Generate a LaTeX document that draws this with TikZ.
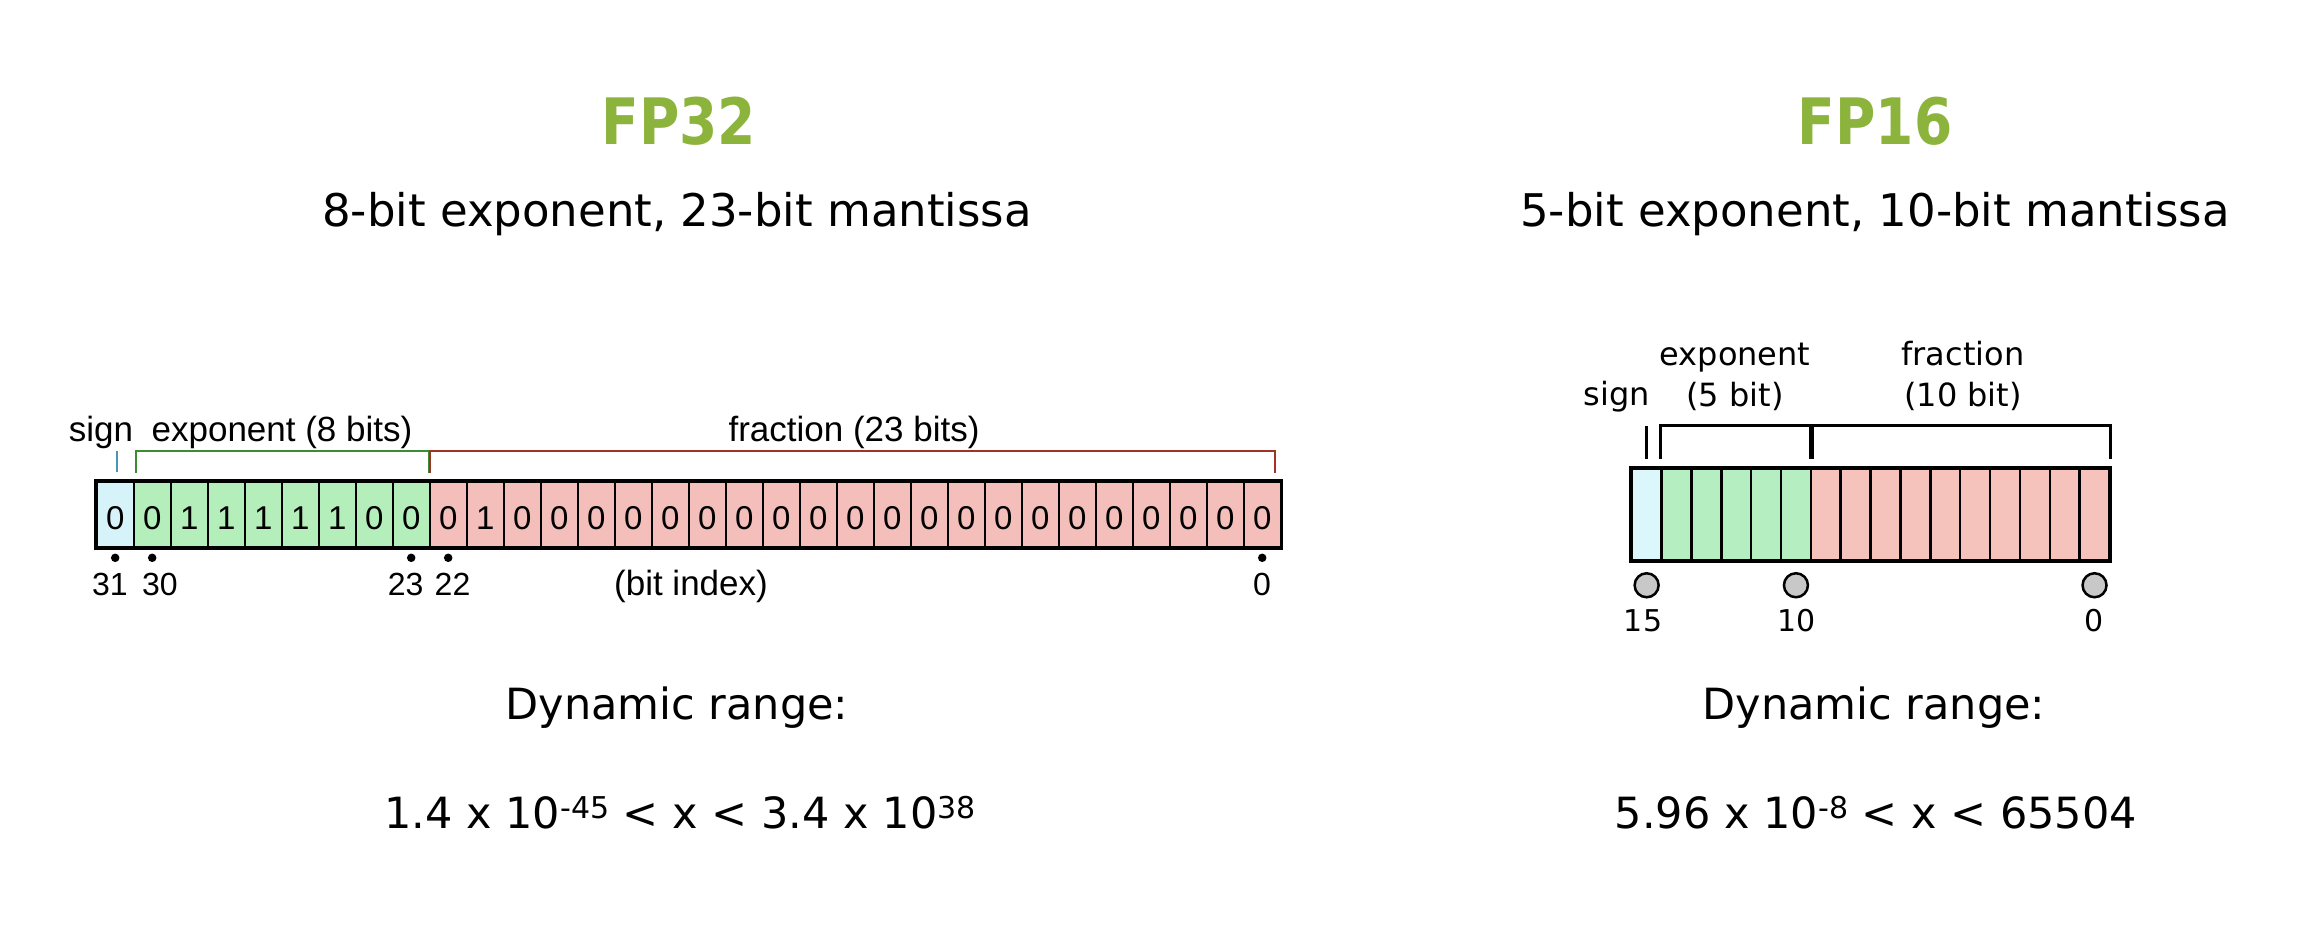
\documentclass[tikz,border=0pt]{standalone}
\usepackage{fontspec}
\setmainfont{DejaVu Sans}
\newfontfamily\arialf{Liberation Sans}
\newfontfamily\titlef[FakeStretch=0.86]{DejaVu Sans}
\definecolor{titlegreen}{RGB}{140,180,60}
\definecolor{s32}{RGB}{214,243,250}
\definecolor{e32}{RGB}{180,238,186}
\definecolor{f32}{RGB}{244,190,186}
\definecolor{s16}{RGB}{220,247,252}
\definecolor{e16}{RGB}{181,238,192}
\definecolor{f16}{RGB}{245,194,188}
\definecolor{signc}{RGB}{70,150,180}
\definecolor{expc}{RGB}{60,140,50}
\definecolor{fracc}{RGB}{160,50,40}
\definecolor{dotgray}{RGB}{200,200,200}
\begin{document}
\begin{tikzpicture}[x=1pt,y=-1pt,
  txt/.style={anchor=base, inner sep=0pt},
  titletxt/.style={txt, font={\titlef\bfseries\fontsize{64}{70}\selectfont}, text=titlegreen},
  bodytxt/.style={txt, font={\fontsize{45}{50}\selectfont}},
  lab32/.style={txt, font={\arialf\fontsize{35}{40}\selectfont}},
  num32/.style={txt, font={\arialf\fontsize{32}{36}\selectfont}},
  lab16/.style={txt, font={\fontsize{32}{36}\selectfont}},
  num16/.style={txt, font={\fontsize{30}{34}\selectfont}},
  cell32/.style={draw=black, line width=1.6pt, minimum width=37pt, minimum height=65pt,
    inner sep=0pt, text height=29pt, text depth=0pt, font={\arialf\fontsize{33}{38}\selectfont}},
  cell16/.style={draw=black, line width=2.5pt, minimum width=29.86pt, minimum height=92.4pt, inner sep=0pt},
  dot32/.style={circle, fill=black, inner sep=0pt, minimum size=8.5pt},
  circ16/.style={circle, draw=black, line width=2.5pt, fill=dotgray, inner sep=0pt, minimum size=24pt},
  brk32/.style={line width=2pt},
  brk16/.style={line width=2.5pt, draw=black}
]
\useasboundingbox[fill=white] (0,0) rectangle (2306,934);

% ---------- titles ----------
\node[titletxt] (t32) at (679,144) {FP32};
\node[titletxt] (t16) at (1875,144) {FP16};
\node[bodytxt] (s32) at (677,226) {8-bit exponent, 23-bit mantissa};
\node[bodytxt] (s16) at (1875,226) {5-bit exponent, 10-bit mantissa};

% ---------- FP32 bit field ----------
\foreach \b [count=\i from 0] in {0, 0,1,1,1,1,1,0,0, 0,1,0,0,0,0,0,0,0,0,0,0,0,0,0,0,0,0,0,0,0,0,0} {
  \ifnum\i=0 \def\fc{s32}\else\ifnum\i<9 \def\fc{e32}\else\def\fc{f32}\fi\fi
  \node[cell32, fill=\fc] (a\i) at ({115.2+37*\i},514.5) {\b};
}
\draw[line width=3.5pt] (a0.north west) rectangle (a31.south east);

\node[lab32] (sign32) at (101,441.7) {sign};
\node[lab32] (exp32) at (282,441.7) {exponent (8 bits)};
\node[lab32] (frac32) at (854,441.7) {fraction (23 bits)};

\draw[brk32, signc] ([yshift=9pt]a0.north) ++(1.5,0) coordinate (sg1) -- ++(0,-21.6) coordinate (sg2);
\draw[brk32, expc] ([xshift=3.3pt,yshift=8pt]a1.north west) coordinate (e1)
  |- ([xshift=-1.7pt,yshift=30pt]a8.north east) coordinate (e2)
  -- ([xshift=-1.7pt,yshift=8pt]a8.north east) coordinate (e3);
\draw[brk32, fracc] ([xshift=1pt,yshift=8pt]a9.north west) coordinate (f1)
  |- ([xshift=-6.5pt,yshift=30pt]a31.north east) coordinate (f2)
  -- ([xshift=-6.5pt,yshift=8pt]a31.north east) coordinate (f3);

\node[dot32] (p31) at ([yshift=-10pt]a0.south) {};
\node[dot32] (p30) at ([yshift=-10pt]a1.south) {};
\node[dot32] (p23) at ([yshift=-10pt]a8.south) {};
\node[dot32] (p22) at ([yshift=-10pt]a9.south) {};
\node[dot32] (p0) at ([yshift=-10pt]a31.south) {};

\node[num32] (n31) at (110,595) {31};
\node[num32] (n30) at (160,595) {30};
\node[num32] (n23) at (405.7,595) {23};
\node[num32] (n22) at (452.5,595) {22};
\node[num32] (n0) at (1262,595) {0};
\node[lab32] (bitidx) at (691,595) {(bit index)};

% ---------- FP16 bit field ----------
\foreach \i in {0,...,15} {
  \ifnum\i=0 \def\fc{s16}\else\ifnum\i<6 \def\fc{e16}\else\def\fc{f16}\fi\fi
  \node[cell16, fill=\fc] (b\i) at ({1646.63+29.86*\i},514.5) {};
}
\draw[line width=2.5pt] (b0.north west) rectangle (b15.south east);

\node[lab16] (sign16) at (1617,405) {sign};
\node[lab16] (exp16a) at (1735,365) {exponent};
\node[lab16] (exp16b) at (1735,406) {(5 bit)};
\node[lab16] (frac16a) at (1963,365) {fraction};
\node[lab16] (frac16b) at (1963,406) {(10 bit)};

\draw[brk16] ([yshift=8.3pt]b0.north) coordinate (sh1) -- ++(0,-33) coordinate (sh2);
\draw[brk16] ([xshift=0pt,yshift=8.3pt]b1.north west) coordinate (g1)
  |- ([xshift=-1.8pt,yshift=41.6pt]b5.north east) coordinate (g2)
  -- ([xshift=-1.8pt,yshift=8.3pt]b5.north east) coordinate (g3);
\draw[brk16] ([xshift=3pt,yshift=8.3pt]b6.north west) coordinate (h1)
  |- ([yshift=41.6pt]b15.north east) coordinate (h2)
  -- ([yshift=8.3pt]b15.north east) coordinate (h3);

\node[circ16] (q15) at ([yshift=-23.3pt]b0.south) {};
\node[circ16] (q10) at ([yshift=-23.3pt]b5.south) {};
\node[circ16] (q0) at ([yshift=-23.3pt]b15.south) {};

\node[num16] (m15) at (1643,631.7) {15};
\node[num16] (m10) at (1796.7,631.7) {10};
\node[num16] (m0) at (2094,631.7) {0};

% ---------- dynamic range ----------
\node[bodytxt, font={\fontsize{43}{48}\selectfont}] (dr32) at (677,719) {Dynamic range:};
\node[bodytxt, font={\fontsize{43}{48}\selectfont}] (dr16) at (1874,719) {Dynamic range:};
\node[bodytxt, font={\fontsize{43}{48}\selectfont}] (rg32) at (680,828)
  {1.4 x 10\raisebox{10pt}{\fontsize{30}{30}\selectfont -45} < x < 3.4 x 10\raisebox{10pt}{\fontsize{30}{30}\selectfont 38}};
\node[bodytxt, font={\fontsize{43}{48}\selectfont}] (rg16) at (1876,828)
  {5.96 x 10\raisebox{10pt}{\fontsize{30}{30}\selectfont -8} < x < 65504};
\end{tikzpicture}
\end{document}
